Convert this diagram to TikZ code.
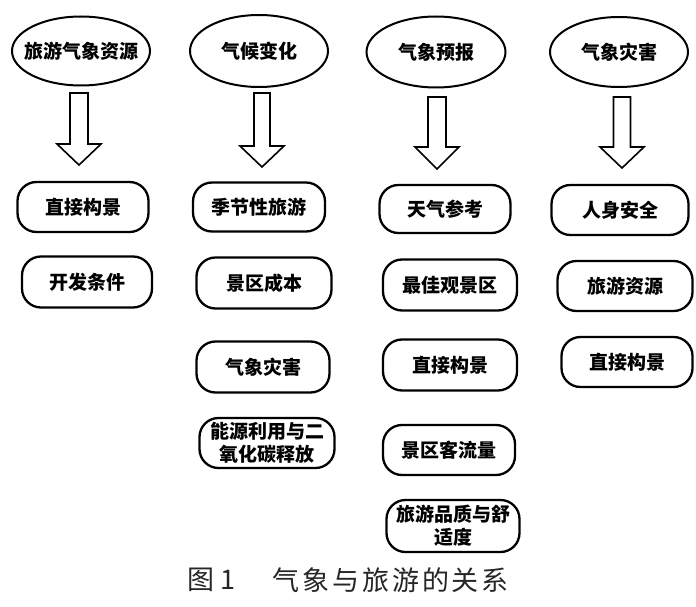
\documentclass[tikz,border=0pt]{standalone}
\usepackage{fontspec}
\newfontfamily\cjk{Noto Sans CJK SC}
\newfontfamily\cjkcap[LetterSpace=11]{Noto Sans CJK SC}
\usetikzlibrary{shapes.geometric,calc}
\tikzset{
  topic/.style={ellipse, draw=black, line width=2pt, inner sep=0pt,
    font=\cjk\bfseries\fontsize{19}{22}\selectfont},
  itembox/.style={rectangle, rounded corners=19pt, draw=black, line width=2.3pt,
    inner sep=0pt, align=center, font=\cjk\bfseries\fontsize{19}{23}\selectfont},
  blockarrow/.style={draw=black, line width=1.6pt, fill=white, line join=miter}
}
\begin{document}
\begin{tikzpicture}[x=1pt,y=-1pt]
\useasboundingbox (0,0) rectangle (696,607);
% topics
\node[topic, inner xsep=-9pt, minimum width=138pt, minimum height=69pt] (e1) at (81,51) {旅游气象资源};
\node[topic, minimum width=138pt, minimum height=72pt] (e2) at (259,51) {气候变化};
\node[topic, minimum width=139pt, minimum height=71pt] (e3) at (436,52) {气象预报};
\node[topic, minimum width=138pt, minimum height=70pt] (e4) at (619,52) {气象灾害};
% column 1
\node[itembox, minimum width=131pt, minimum height=50pt] (b11) at (83,207) {直接构景};
\node[itembox, minimum width=130pt, minimum height=51pt] (b12) at (87,282) {开发条件};
% column 2
\node[itembox, minimum width=132pt, minimum height=49pt] (b21) at (259,207) {季节性旅游};
\node[itembox, minimum width=135pt, minimum height=51pt] (b22) at (264,283) {景区成本};
\node[itembox, minimum width=133pt, minimum height=51pt] (b23) at (263,367) {气象灾害};
\node[itembox, minimum width=135pt, minimum height=50pt] (b24) at (267,443) {能源利用与二\\氧化碳释放};
% column 3
\node[itembox, minimum width=131pt, minimum height=48pt] (b31) at (445,209) {天气参考};
\node[itembox, minimum width=134pt, minimum height=51pt] (b32) at (450,285) {最佳观景区};
\node[itembox, minimum width=134pt, minimum height=51pt] (b33) at (450,365) {直接构景};
\node[itembox, minimum width=132pt, minimum height=50pt] (b34) at (449,450) {景区客流量};
\node[itembox, minimum width=133pt, minimum height=52pt] (b35) at (453,526) {旅游品质与舒\\适度};
% column 4
\node[itembox, minimum width=137pt, minimum height=50pt] (b41) at (620,210) {人身安全};
\node[itembox, minimum width=135pt, minimum height=50pt] (b42) at (625,286) {旅游资源};
\node[itembox, minimum width=131pt, minimum height=50pt] (b43) at (627,362) {直接构景};
% block arrows: name / x / top / base / tip / half shaft width
\foreach \n/\cx/\ty/\by/\tp/\hw in {a1/79/93/144/165/9, a2/262/93/146/167/8, a3/437/97/147/169/9, a4/622/97/147/168/8.5}{
  \coordinate (\n) at (\cx,\ty);
  \draw[blockarrow] ($(\n)+(-\hw,0)$) -- ($(\n)+(\hw,0)$) -- ($(\n)+(\hw,\by-\ty)$)
    -- ($(\n)+(22,\by-\ty)$) -- ($(\n)+(0,\tp-\ty)$) -- ($(\n)+(-22,\by-\ty)$)
    -- ($(\n)+(-\hw,\by-\ty)$) -- cycle;
}
% caption
\node[font=\cjk\fontsize{27}{30}\selectfont, text=black!85, inner sep=0pt] (cap1) at (211,580) {图\hspace{6pt}1};
\node[font=\cjkcap\fontsize{27}{30}\selectfont, text=black!85, inner sep=0pt, anchor=west] (cap2) at (272,580) {气象与旅游的关系};
\end{tikzpicture}
\end{document}
